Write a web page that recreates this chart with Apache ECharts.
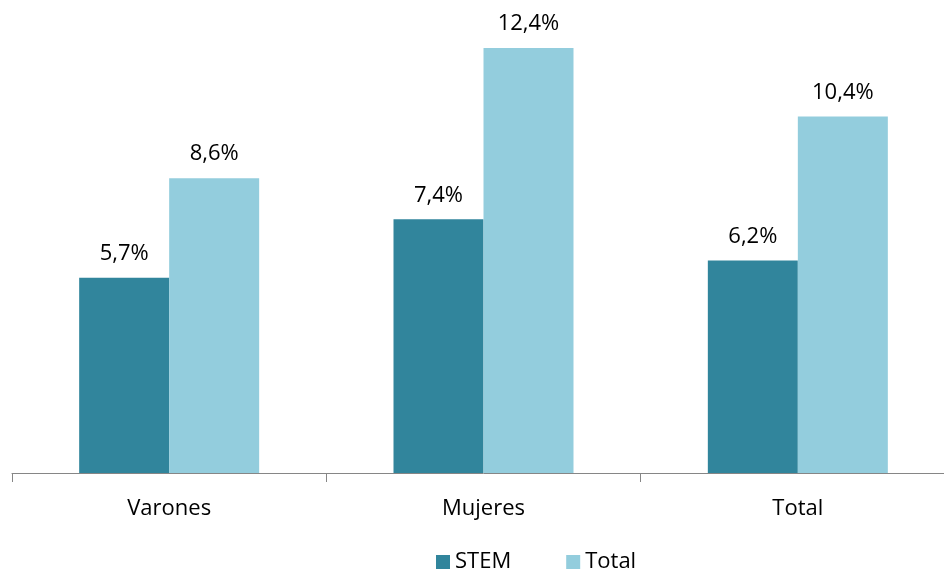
<!DOCTYPE html>
<html>
<head>
<meta charset="utf-8">
<script src="https://cdn.jsdelivr.net/npm/echarts@6/dist/echarts.min.js"></script>
<style>
  html, body { margin: 0; padding: 0; background: #fff; overflow: hidden; width: 944px; height: 574px; }
  /* el gráfico original recorta el último tramo del eje por la derecha */
  #chart { width: 956px; height: 574px; }
</style>
</head>
<body>
<div id="chart"></div>
<script>
// datos
const categories = ['Varones', 'Mujeres', 'Total']
const stemValues = [5.7, 7.4, 6.2]
const totalValues = [8.6, 12.4, 10.4]

const FONT = '"Open Sans", "Liberation Sans", sans-serif'

function fmt(p) {
  return p.value.toFixed(1).replace('.', ',') + '%'
}

const chart = echarts.init(document.getElementById('chart'))

const labelStyle = {
  show: true,
  position: 'top',
  distance: 13,
  color: '#000',
  fontSize: 22,
  fontFamily: FONT,
  formatter: fmt
}

chart.setOption({
  animation: false,
  grid: { left: 12, right: 1, top: 0, height: 473 },
  legend: {
    data: ['STEM', 'Total'],
    left: 431,
    top: 546,
    itemWidth: 14,
    itemHeight: 14,
    itemGap: 55,
    icon: 'rect',
    textStyle: { fontSize: 22, fontFamily: FONT, color: '#000' }
  },
  xAxis: {
    type: 'category',
    data: categories,
    axisLine: { lineStyle: { color: '#868686', width: 1 } },
    axisTick: { show: true, length: 9, lineStyle: { color: '#868686' } },
    axisLabel: { color: '#000', fontSize: 22, fontFamily: FONT, margin: 25 }
  },
  yAxis: {
    type: 'value',
    min: 0,
    max: 13.8,
    show: false,
    splitLine: { show: false }
  },
  series: [
    {
      name: 'STEM',
      type: 'bar',
      data: stemValues,
      barWidth: 90,
      barGap: '0%',
      itemStyle: { color: '#31859C' },
      label: labelStyle
    },
    {
      name: 'Total',
      type: 'bar',
      data: totalValues,
      barWidth: 90,
      itemStyle: { color: '#93CDDD' },
      label: labelStyle
    }
  ]
})
</script>
</body>
</html>
